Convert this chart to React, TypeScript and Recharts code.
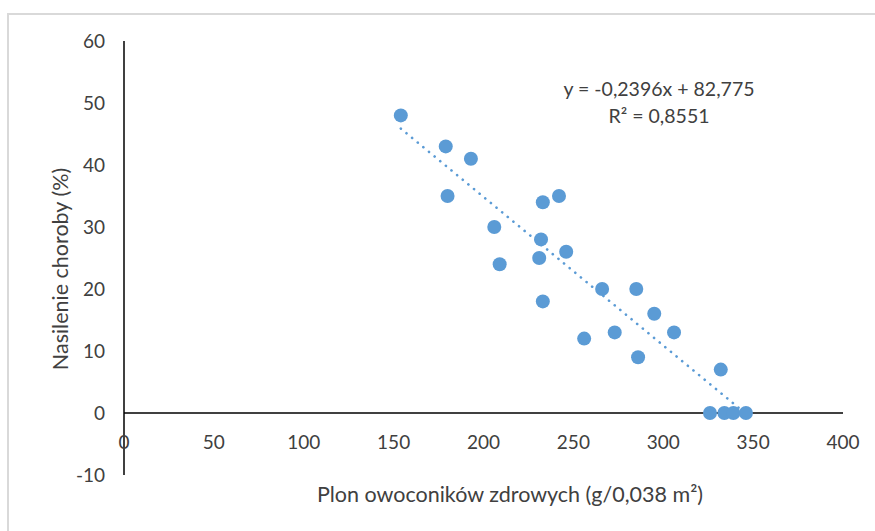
import React from 'react';
import {
  ScatterChart, Scatter, XAxis, YAxis, ReferenceLine, Label
} from 'recharts';

// yield of healthy fruiting bodies vs disease severity
const yieldValues = [154, 179, 180, 193, 206, 209, 233, 242, 232, 231, 246, 233, 266, 285, 295, 256, 273, 306, 286, 332, 326, 334, 339, 346];
const severityValues = [48, 43, 35, 41, 30, 24, 34, 35, 28, 25, 26, 18, 20, 20, 16, 12, 13, 13, 9, 7, 0, 0, 0, 0];

const xTicks = [0, 50, 100, 150, 200, 250, 300, 350, 400];
const yTicks = [-10, 0, 10, 20, 30, 40, 50, 60];

const slope = -0.2396;
const intercept = 82.775;

const FONT = 'Lato, "Open Sans", sans-serif';
const FS = 19;
const TITLE_FS = 21.5;
const BLUE = '#5B9BD5';
const TEXT = '#404040';

const points = yieldValues.map((x, i) => ({ x, y: severityValues[i] }));
const xMin = Math.min(...yieldValues);
const xMax = Math.max(...yieldValues);
const trend = [
  { x: xMin, y: slope * xMin + intercept },
  { x: xMax, y: slope * xMax + intercept },
];

const XTick = (props: any) => {
  const { x, payload } = props;
  return (
    <text x={x} y={441} textAnchor="middle" dominantBaseline="central"
      fontFamily={FONT} fontSize={FS} fill={TEXT}>
      {payload.value}
    </text>
  );
};

const Dot = (props: any) => {
  const { cx, cy } = props;
  return <circle cx={cx} cy={cy} r={7} fill={BLUE} />;
};

export default function App() {
  return (
    <div style={{ position: 'absolute', left: 0, top: 0, width: 875, height: 531, background: '#fff' }}>
      <div style={{
        position: 'absolute', left: 7, top: 13, width: 866, height: 518,
        borderTop: '2px solid #D9D9D9', borderLeft: '2px solid #D9D9D9'
      }} />
      <ScatterChart width={875} height={531} margin={{ top: 41, right: 32, bottom: 0, left: 0 }}
        style={{ position: 'absolute', left: 0, top: 0 }}>
        <XAxis dataKey="x" type="number" domain={[0, 400]} ticks={xTicks} interval={0}
          axisLine={false} tickLine={false} tick={<XTick />} height={56}>
          <Label content={() => (
            <text x={510} y={494} textAnchor="middle" dominantBaseline="central"
              fontFamily={FONT} fontSize={TITLE_FS} fill={TEXT}>
              Plon owoconików zdrowych (g/0,038 m²)
            </text>
          )} />
        </XAxis>
        <YAxis dataKey="y" type="number" domain={[-10, 60]} ticks={yTicks} interval={0}
          width={124} tickLine={false} tickSize={0} tickMargin={19}
          axisLine={{ stroke: '#000', strokeWidth: 1.5 }}
          tick={{ fontFamily: FONT, fontSize: FS, fill: TEXT }}>
          <Label content={() => (
            <text x={60} y={269} transform="rotate(-90 60 269)" textAnchor="middle"
              dominantBaseline="central" fontFamily={FONT} fontSize={TITLE_FS} fill={TEXT}>
              Nasilenie choroby (%)
            </text>
          )} />
        </YAxis>
        <ReferenceLine y={0} stroke="#000" strokeWidth={1.5} />
        <ReferenceLine segment={trend} stroke={BLUE} strokeWidth={2.6}
          strokeDasharray="0.1 7.2" strokeLinecap="round" ifOverflow="extendDomain" />
        <Scatter data={points} shape={<Dot />} isAnimationActive={false} />
      </ScatterChart>
      <div style={{
        position: 'absolute', left: 559, top: 75, width: 200, textAlign: 'center',
        fontFamily: FONT, fontSize: 19.5, color: TEXT, lineHeight: '27px'
      }}>
        <div>y = -0,2396x + 82,775</div>
        <div>R² = 0,8551</div>
      </div>
    </div>
  );
}
